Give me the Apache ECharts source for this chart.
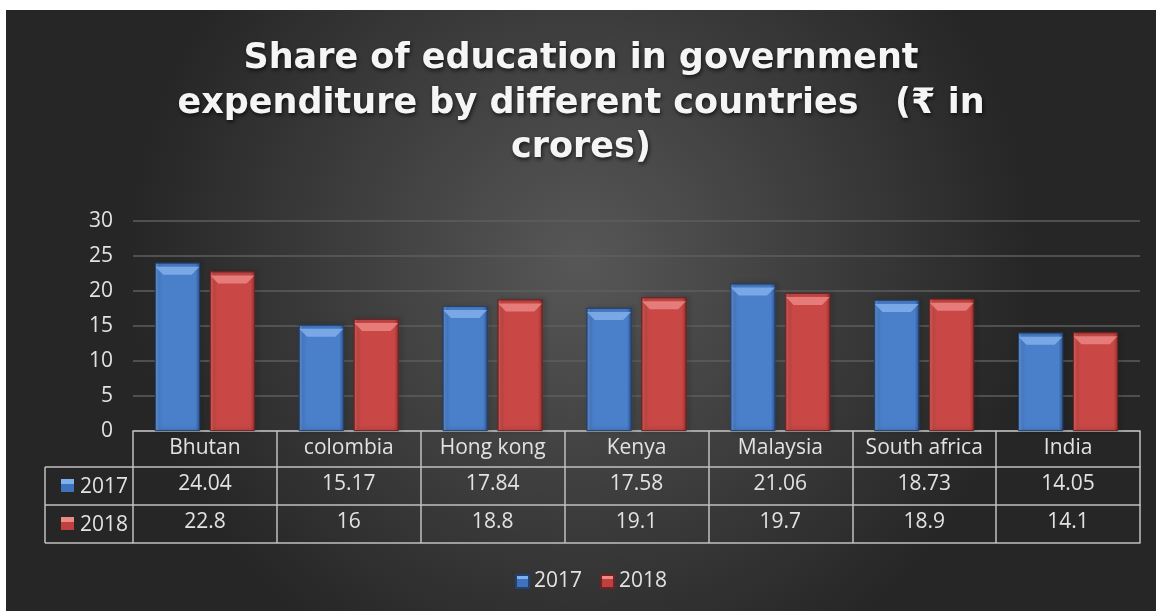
<!DOCTYPE html>
<html><head><meta charset="utf-8">
<script src="https://cdn.jsdelivr.net/npm/echarts@6/dist/echarts.min.js"></script>
<style>
html,body{margin:0;padding:0;background:#fff;width:1156px;height:611px;overflow:hidden}
#c{position:absolute;left:6px;top:10px;width:1150px;height:601px}
</style></head>
<body><div id="c"></div>
<script>
const categories = ['Bhutan','colombia','Hong kong','Kenya','Malaysia','South africa','India'];
const seriesNames = ['2017','2018'];
const values2017 = [24.04, 15.17, 17.84, 17.58, 21.06, 18.73, 14.05];
const values2018 = [22.8, 16, 18.8, 19.1, 19.7, 18.9, 14.1];
const yTicks = {min:0, max:30, interval:5};

const FONT = '"Open Sans", "Noto Sans", "DejaVu Sans", sans-serif';
const TFONT = '"DejaVu Sans", "Open Sans", sans-serif';
const TXT = '#e2e2e2';
const LINE = '#c0c0c0';
const FS = 21;

const chart = echarts.init(document.getElementById('c'), null, {renderer:'canvas'});

function grad(a,b,c){
  return new echarts.graphic.LinearGradient(0,0,1,0,[
    {offset:0,color:a},{offset:0.1,color:b},{offset:0.9,color:b},{offset:1,color:c}]);
}
const blue = grad('#6a9be0','#4a7fca','#2f5894');
const red = grad('#e06a66','#c94846','#9a3230');
function iconGrad(top, base){
  return new echarts.graphic.LinearGradient(0,0,0,1,[
    {offset:0,color:top},{offset:0.35,color:top},{offset:0.36,color:base},{offset:1,color:base}]);
}

const labelBase = {color:TXT, fontSize:FS, fontFamily:FONT, interval:0, margin:7};
const bevelPath = 'path://M0,0 L45,0 L37,9 L8,9 Z';

const option = {
  backgroundColor: new echarts.graphic.RadialGradient(0.5,0.42,0.75,[
    {offset:0,color:'#575757'},{offset:1,color:'#262626'}]),
  title:{
    text:'Share of education in government\nexpenditure by different countries   (₹ in\ncrores)',
    left:'center', top:22,
    textStyle:{color:'#f5f5f5', fontSize:35, fontWeight:'bold', fontFamily:TFONT, lineHeight:44.5,
      textShadowColor:'rgba(0,0,0,0.7)', textShadowBlur:4, textShadowOffsetX:1, textShadowOffsetY:2}
  },
  legend:{
    top:556, left:504, itemWidth:13, itemHeight:13, itemGap:18,
    icon:'rect',
    textStyle:{color:TXT, fontSize:FS, fontFamily:FONT},
    data:[
      {name:seriesNames[0], itemStyle:{color:iconGrad('#7fb0ee','#3f72bd')}},
      {name:seriesNames[1], itemStyle:{color:iconGrad('#ee8a86','#bf403e')}}
    ]
  },
  grid:{left:127, right:16, top:211, bottom:180, containLabel:false},
  xAxis:[
    {type:'category', data:categories, gridIndex:0, position:'bottom',
     axisLine:{show:true, lineStyle:{color:LINE, width:1.5}},
     axisTick:{show:true, length:112, interval:0, lineStyle:{color:LINE, width:1.5}},
     axisLabel:labelBase, splitLine:{show:false}},
    {type:'category', data:values2017.map(String), gridIndex:0, position:'bottom', offset:36,
     axisLine:{show:true, lineStyle:{color:LINE, width:1.5}}, axisTick:{show:false},
     axisLabel:labelBase},
    {type:'category', data:values2018.map(String), gridIndex:0, position:'bottom', offset:74,
     axisLine:{show:true, lineStyle:{color:LINE, width:1.5}}, axisTick:{show:false},
     axisLabel:labelBase},
    {type:'category', data:categories, gridIndex:0, position:'bottom', offset:112,
     axisLine:{show:true, lineStyle:{color:LINE, width:1.5}}, axisTick:{show:false},
     axisLabel:{show:false}}
  ],
  yAxis:{type:'value', min:yTicks.min, max:yTicks.max, interval:yTicks.interval,
    axisLine:{show:false}, axisTick:{show:false},
    axisLabel:{color:TXT, fontSize:FS, fontFamily:FONT, margin:20},
    splitLine:{lineStyle:{color:'#5e5e5e', width:1.5}}},
  series:[
    {name:seriesNames[0], type:'bar', xAxisIndex:0, data:values2017, barWidth:45, barGap:'22%',
     itemStyle:{color:blue, borderColor:'#23416e', borderWidth:0.8,
       shadowColor:'rgba(0,0,0,0.5)', shadowBlur:4, shadowOffsetX:2}},
    {name:seriesNames[1], type:'bar', xAxisIndex:0, data:values2018, barWidth:45,
     itemStyle:{color:red, borderColor:'#6e2322', borderWidth:0.8,
       shadowColor:'rgba(0,0,0,0.5)', shadowBlur:4, shadowOffsetX:2}},
    {name:'b2017', type:'pictorialBar', xAxisIndex:0, data:values2017, barWidth:45,
     symbol:bevelPath, symbolSize:[44,8], symbolPosition:'end', symbolOffset:[-27.5,'50%'], z:5,
     itemStyle:{color:'#86b2ec', opacity:0.8}, silent:true},
    {name:'b2018', type:'pictorialBar', xAxisIndex:0, data:values2018, barWidth:45,
     symbol:bevelPath, symbolSize:[44,8], symbolPosition:'end', symbolOffset:[27.5,'50%'], z:5,
     itemStyle:{color:'#ec8a86', opacity:0.8}, silent:true}
  ],
  graphic:[
    {type:'line', shape:{x1:39,y1:457,x2:127,y2:457}, style:{stroke:LINE, lineWidth:1.5}},
    {type:'line', shape:{x1:39,y1:495,x2:127,y2:495}, style:{stroke:LINE, lineWidth:1.5}},
    {type:'line', shape:{x1:39,y1:533,x2:127,y2:533}, style:{stroke:LINE, lineWidth:1.5}},
    {type:'line', shape:{x1:39,y1:457,x2:39,y2:533}, style:{stroke:LINE, lineWidth:1.5}},
    {type:'rect', shape:{x:55,y:469,width:13,height:13}, style:{fill:iconGrad('#7fb0ee','#3f72bd')}},
    {type:'rect', shape:{x:55,y:507,width:13,height:13}, style:{fill:iconGrad('#ee8a86','#bf403e')}},
    {type:'text', x:74, y:477, style:{text:seriesNames[0], fill:TXT, fontSize:FS, fontFamily:FONT, verticalAlign:'middle'}},
    {type:'text', x:74, y:515, style:{text:seriesNames[1], fill:TXT, fontSize:FS, fontFamily:FONT, verticalAlign:'middle'}}
  ]
};
chart.setOption(option);
</script></body></html>
